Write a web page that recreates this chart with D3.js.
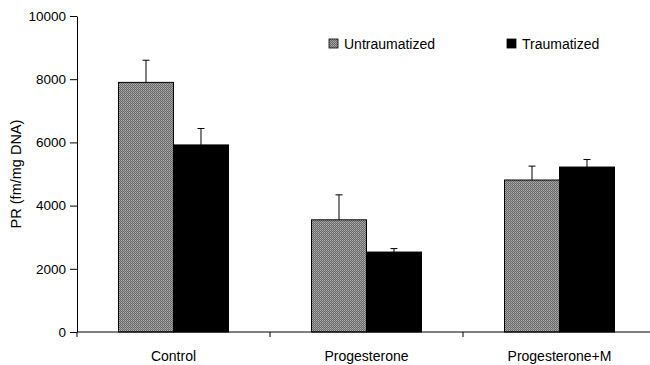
<!DOCTYPE html>
<html>
<head>
<meta charset="utf-8">
<script src="https://cdn.jsdelivr.net/npm/d3@7"></script>
<style>
  body { margin: 0; background: #fff; }
  text { font-family: "Liberation Sans", Arial, sans-serif; }
</style>
</head>
<body>
<div id="chart"></div>
<script>
// groups and series
const categories = ["Control", "Progesterone", "Progesterone+M"];
const seriesNames = ["Untraumatized", "Traumatized"];
const untraumatized = [7900, 3550, 4810];
const untraumatizedErr = [8600, 4340, 5250];   // top of error bar
const traumatized = [5920, 2530, 5220];
const traumatizedErr = [6440, 2640, 5460];
const yTicks = [0, 2000, 4000, 6000, 8000, 10000];

const margin = { top: 16, right: -6, bottom: 33, left: 77 };
const width = 650 - margin.left - margin.right;
const height = 365 - margin.top - margin.bottom;

const svg = d3.select("#chart")
    .append("svg")
    .attr("width", 650)
    .attr("height", 365);

// dotted grey fill
const defs = svg.append("defs");
const pat = defs.append("pattern")
    .attr("id", "dots")
    .attr("patternUnits", "userSpaceOnUse")
    .attr("width", 2)
    .attr("height", 2);
pat.append("rect").attr("width", 2).attr("height", 2).attr("fill", "#6a6a6a");
pat.append("rect").attr("width", 1).attr("height", 1).attr("fill", "#adadad");
pat.append("rect").attr("x", 1).attr("y", 1).attr("width", 1).attr("height", 1).attr("fill", "#959595");

const g = svg.append("g")
    .attr("transform", "translate(" + margin.left + "," + margin.top + ")");

const x = d3.scaleBand()
    .domain(categories)
    .range([0, width])
    .paddingInner(0)
    .paddingOuter(0);

const x1 = d3.scaleBand()
    .domain(seriesNames)
    .range([0, x.bandwidth()])
    .paddingOuter(0.755)
    .paddingInner(0);

const y = d3.scaleLinear()
    .domain([0, 10000])
    .range([height, 0]);

const data = categories.map((c, i) => ({
    cat: c,
    vals: [
        { s: seriesNames[0], v: untraumatized[i], e: untraumatizedErr[i], fill: "url(#dots)" },
        { s: seriesNames[1], v: traumatized[i], e: traumatizedErr[i], fill: "#000" }
    ]
}));

const groups = g.selectAll(".grp")
    .data(data)
    .enter()
    .append("g")
    .attr("transform", d => "translate(" + x(d.cat) + ",0)");

// error bars (upper only)
groups.selectAll(".err")
    .data(d => d.vals)
    .enter()
    .append("path")
    .attr("d", d => {
        const cx = x1(d.s) + x1.bandwidth() / 2;
        return "M" + cx + "," + y(d.v) + "V" + y(d.e) + "M" + (cx - 3.5) + "," + y(d.e) + "H" + (cx + 3.5);
    })
    .attr("stroke", "#000")
    .attr("stroke-width", 1)
    .attr("fill", "none");

groups.selectAll(".bar")
    .data(d => d.vals)
    .enter()
    .append("rect")
    .attr("x", d => x1(d.s))
    .attr("y", d => y(d.v))
    .attr("width", x1.bandwidth())
    .attr("height", d => height - y(d.v))
    .attr("fill", d => d.fill)
    .attr("stroke", "#000")
    .attr("stroke-width", 1);

// y axis
const yAxis = g.append("g")
    .call(d3.axisLeft(y).tickValues(yTicks).tickSize(7).tickPadding(4).tickSizeOuter(0).tickFormat(d3.format("d")));
yAxis.select(".domain").attr("stroke", "#000");
yAxis.selectAll("line").attr("stroke", "#000");
yAxis.selectAll("text").attr("font-size", 13.5).attr("fill", "#000")
    .attr("font-family", "'Liberation Sans', Arial, sans-serif");

// x axis: ticks on category boundaries
const xAxis = g.append("g")
    .attr("transform", "translate(0," + height + ")");
xAxis.append("line")
    .attr("x1", 0).attr("x2", width)
    .attr("stroke", "#000");
xAxis.selectAll(".tick")
    .data(categories)
    .enter()
    .append("line")
    .attr("x1", d => x(d)).attr("x2", d => x(d))
    .attr("y1", 0).attr("y2", 5)
    .attr("stroke", "#000");
xAxis.selectAll(".lbl")
    .data(categories)
    .enter()
    .append("text")
    .attr("x", d => x(d) + x.bandwidth() / 2)
    .attr("y", 29)
    .attr("text-anchor", "middle")
    .attr("font-size", 14)
    .text(d => d);

// y label
svg.append("text")
    .attr("transform", "rotate(-90)")
    .attr("x", -174)
    .attr("y", 21)
    .attr("text-anchor", "middle")
    .attr("font-size", 14.5)
    .text("PR (fm/mg DNA)");

// legend
const legendX = [329, 507];
const legend = svg.selectAll(".leg")
    .data(seriesNames)
    .enter()
    .append("g")
    .attr("transform", (d, i) => "translate(" + legendX[i] + ",39)");
legend.append("rect")
    .attr("width", 9).attr("height", 9)
    .attr("fill", (d, i) => i === 0 ? "url(#dots)" : "#000")
    .attr("stroke", "#000")
    .attr("stroke-width", 0.8);
legend.append("text")
    .attr("x", 15)
    .attr("y", 10)
    .attr("font-size", 14)
    .text(d => d);
</script>
</body>
</html>
